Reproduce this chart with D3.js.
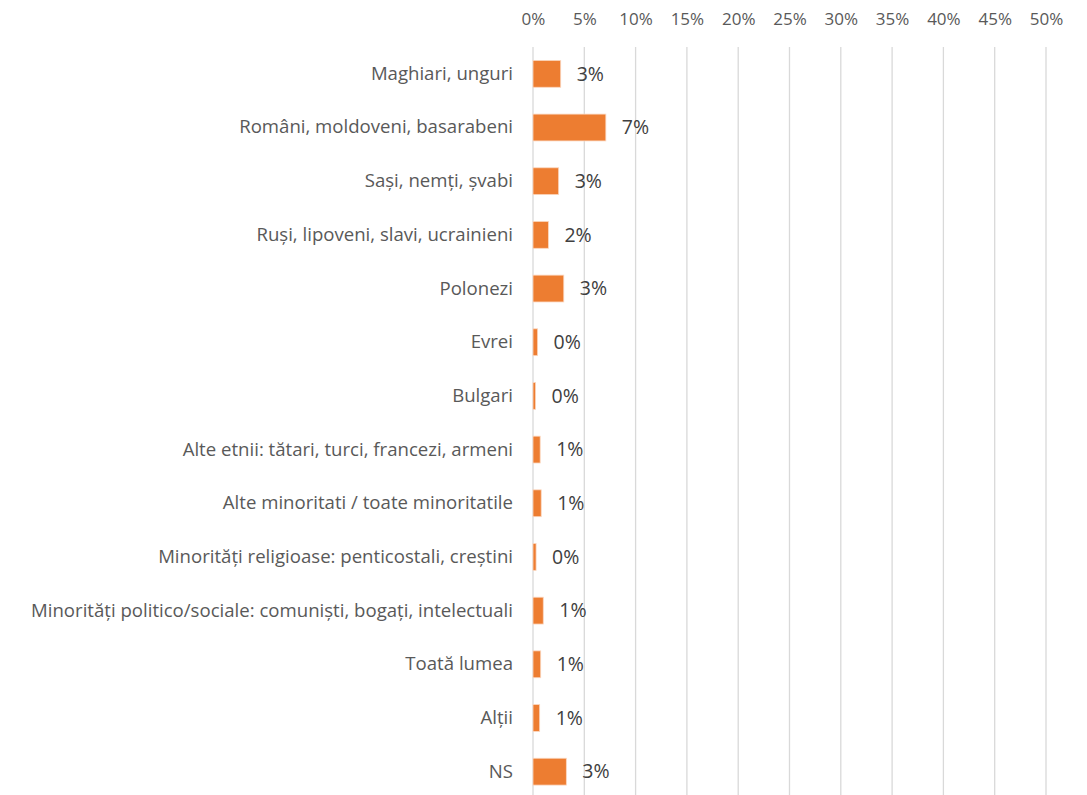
<!DOCTYPE html>
<html><head><meta charset="utf-8">
<script src="https://cdn.jsdelivr.net/npm/d3@7"></script>
<style>html,body{margin:0;padding:0;background:#fff;overflow:hidden}</style>
</head><body>
<svg id="c" width="1087" height="795"></svg>
<script>
const categories = ["Maghiari, unguri","Români, moldoveni, basarabeni","Sași, nemți, șvabi","Ruși, lipoveni, slavi, ucrainieni","Polonezi","Evrei","Bulgari","Alte etnii: tătari, turci, francezi, armeni","Alte minoritati / toate minoritatile","Minorități religioase: penticostali, creștini","Minorități politico/sociale: comuniști, bogați, intelectuali","Toată lumea","Alții","NS"];
const values = [0.027,0.071,0.025,0.015,0.030,0.0045,0.0025,0.007,0.008,0.003,0.010,0.0075,0.0065,0.0325];
const valueLabels = ["3%","7%","3%","2%","3%","0%","0%","1%","1%","0%","1%","1%","1%","3%"];
const tickValues = [0,0.05,0.10,0.15,0.20,0.25,0.30,0.35,0.40,0.45,0.50];
const tickLabels = ["0%","5%","10%","15%","20%","25%","30%","35%","40%","45%","50%"];

const font = "'Open Sans', sans-serif";
const svg = d3.select("#c");
const x = d3.scaleLinear().domain([0,0.5]).range([533,1046]);
const y = d3.scaleBand().domain(categories).range([47,798.5]).paddingInner(0.5).paddingOuter(0.25);

svg.append("g").selectAll("line").data(tickValues).join("line")
  .attr("x1",d=>x(d)).attr("x2",d=>x(d)).attr("y1",47).attr("y2",795)
  .attr("stroke","#d9d9d9").attr("stroke-width",1.3);

const xa = d3.axisTop(x).tickValues(tickValues).tickFormat((d,i)=>tickLabels[i]).tickSize(0).tickPadding(0);
const gx = svg.append("g").attr("transform","translate(0,25)").call(xa);
gx.select(".domain").remove();
gx.selectAll("text").attr("font-family",font).attr("font-size",17).attr("fill","#595959");

const ya = d3.axisLeft(y).tickSize(0).tickPadding(0);
const gy = svg.append("g").attr("transform","translate(513,0)").call(ya);
gy.select(".domain").remove();
gy.selectAll("text").attr("font-family",font).attr("font-size",18.6).attr("fill","#595959");

svg.append("g").selectAll("rect").data(values).join("rect")
  .attr("x",x(0)).attr("y",(d,i)=>y(categories[i]))
  .attr("width",d=>x(d)-x(0)).attr("height",y.bandwidth())
  .attr("fill","#ed7d31").attr("stroke","#fbd7c0").attr("stroke-width",0.8);

svg.append("g").selectAll("text").data(values).join("text")
  .attr("x",d=>x(d)+16).attr("y",(d,i)=>y(categories[i])+y.bandwidth()/2)
  .attr("dy","0.35em").attr("font-family",font).attr("font-size",19.5).attr("fill","#404040")
  .text((d,i)=>valueLabels[i]);
</script>
</body></html>
